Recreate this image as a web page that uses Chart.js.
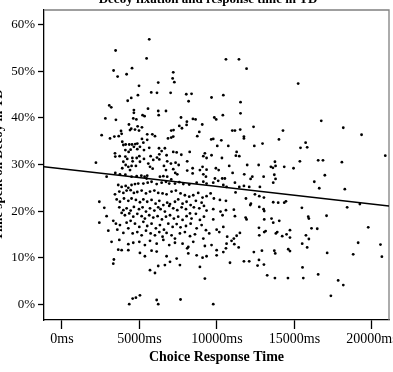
<!DOCTYPE html>
<html>
<head>
<meta charset="utf-8">
<script src="https://cdn.jsdelivr.net/npm/chart.js@4.4.1/dist/chart.umd.min.js"></script>
<style>
body { margin: 0; background: #fff; }
#wrap { width: 393px; height: 372px; }
</style>
</head>
<body>
<div id="wrap"><canvas id="decoyChart"></canvas></div>
<script>
const chartTitle = 'Decoy fixation and response time in TD';
const xTitle = 'Choice Response Time';
const yTitle = 'Time spent on Decoy in TD';
const xTicks = [0, 5000, 10000, 15000, 20000];
const yTicks = [0, 10, 20, 30, 40, 50, 60];
const xRange = [-1160, 21100];
const yRange = [-3.4, 63.2];

// fit line end points
const fitLine = [[-1160, 29.5], [21100, 21.1]];

// [response time ms, % time on decoy]
const trials = [
  [5630,56.9],[3460,54.5],[5460,52.8],[10580,52.6],[3330,50.2],[4520,50.7],[3590,48.9],[4170,49.4],[7180,49.8],[7140,48.5],
  [6210,47.6],[7250,47.7],[4970,46.9],[5760,45.5],[6130,45.4],[7010,45.4],[8020,45.1],[8360,45.2],[4900,44.9],[4470,44.3],
  [4240,43.7],[8170,43.6],[9650,44.4],[10410,44.9],[3050,42.7],[3180,42.3],[5550,42.0],[4640,41.7],[4640,41.1],[6210,41.5],
  [6710,41.5],[6240,40.6],[5200,40.6],[5330,40.4],[2800,39.9],[3480,39.6],[4800,39.7],[4600,39.9],[7680,40.1],[8450,39.8],
  [8620,39.7],[9830,40.1],[9950,39.7],[10380,40.6],[8060,39.2],[8040,38.5],[4320,38.6],[4470,37.7],[4880,38.2],[5160,38.0],
  [7570,38.3],[7740,37.8],[9050,38.6],[4390,37.4],[4710,37.5],[4970,37.3],[3810,37.2],[3850,36.6],[7200,37.4],[7050,37.3],
  [2560,36.3],[3100,35.6],[3380,36.0],[3660,36.1],[5500,36.5],[5830,36.5],[6000,36.1],[5500,35.3],[5160,35.5],[5250,34.7],
  [7050,35.8],[6840,35.6],[7180,36.0],[8860,37.0],[8730,36.1],[9630,35.4],[9760,35.5],[10280,35.2],[10020,34.0],[10730,34.0],
  [3890,34.9],[3960,34.2],[4110,34.3],[4340,34.3],[4520,34.3],[4730,34.4],[4860,34.5],[5030,33.8],[4640,33.8],[4430,33.2],
  [4090,33.1],[4300,32.7],[4860,33.3],[5290,33.1],[5630,33.6],[6260,33.5],[6430,32.9],[6640,33.5],[6280,32.2],[6750,32.0],
  [7180,32.7],[7400,32.6],[7700,32.1],[8240,32.7],[9220,32.4],[9120,31.8],[9330,31.4],[9650,32.0],[3420,32.4],[3440,31.7],
  [3720,31.8],[4090,31.7],[4210,31.2],[4540,31.4],[4560,30.7],[4820,31.4],[4990,31.8],[5290,31.2],[5720,31.8],[6130,31.5],
  [5890,31.0],[6280,31.1],[5030,30.6],[5570,30.2],[5680,29.5],[5850,29.1],[3960,30.6],[4110,29.9],[4280,29.5],[4490,29.7],
  [4770,29.7],[4390,28.8],[3890,29.2],[2190,30.4],[6790,30.7],[7030,30.2],[7330,30.4],[7530,29.9],[8080,30.7],[6580,29.7],
  [6710,28.8],[7180,29.0],[7310,28.2],[7440,27.9],[8080,28.7],[8430,29.2],[8430,28.1],[8900,28.8],[9070,29.5],[9330,28.9],
  [9930,29.2],[10110,28.8],[10320,31.4],[10790,29.7],[9120,27.9],[9290,27.4],[3440,28.2],[3740,27.9],[4090,27.8],[4490,27.4],
  [4820,27.5],[5120,27.6],[5330,27.4],[5500,27.6],[2880,27.4],[5460,27.0],[6320,27.4],[6540,27.5],[6790,27.4],[7050,26.8],
  [9870,27.0],[10340,27.0],[10510,27.0],
  [3630,25.6],[3850,25.2],[4110,25.4],[4280,25.0],[4490,25.6],[4710,25.8],[4920,25.9],[5250,25.9],[5530,26.1],[5780,26.3],
  [6110,25.8],[6430,26.1],[6710,26.3],[6920,25.9],[7290,25.9],[7570,26.2],[7830,25.8],[8210,25.7],[8690,26.1],[9120,26.3],
  [9330,25.9],[9760,26.1],[10080,26.5],[10410,25.6],[10620,25.2],
  [3420,23.6],[3700,24.2],[3960,23.9],[4170,24.4],[4430,24.5],[4640,23.9],[4860,24.1],[5140,24.4],[5420,23.8],[5680,24.2],
  [5960,24.4],[6210,23.9],[6490,23.8],[6750,23.6],[7070,24.2],[7350,24.4],[7650,23.8],[7930,23.4],[8210,23.1],[8470,23.4],
  [8790,23.9],[9070,22.9],[9330,23.2],[9590,23.8],[9800,22.7],[10190,22.4],[10580,22.2],
  [3530,22.5],[3740,22.0],[4000,22.7],[4280,22.2],[4490,22.7],[4770,22.4],[5030,21.9],[5250,22.5],[5500,22.0],[5780,22.4],
  [6040,21.6],[6280,22.2],[6540,21.3],[6790,21.8],[6970,21.5],[7290,22.0],[7500,22.5],[7780,21.6],[8040,22.0],[8300,21.3],
  [8640,22.2],[9010,21.8],[9160,21.1],[2410,22.0],[2730,20.7],
  [3700,20.8],[3960,20.2],[4170,20.6],[4430,20.1],[4640,20.9],[4970,20.4],[5200,20.8],[5420,19.9],[5680,20.6],[5960,20.1],
  [6210,20.8],[6360,20.4],[6640,19.9],[6920,21.1],[7180,20.6],[7440,20.2],[7720,20.8],[8000,20.4],[8260,19.5],[8510,20.8],
  [8860,20.6],[9330,20.1],[9760,20.4],[10230,19.9],[10580,20.2],
  [2880,18.9],[3850,19.6],[4060,19.1],[4340,19.5],[4600,18.8],[4860,19.4],[5140,18.9],[5350,18.4],[5630,19.1],[5890,18.6],
  [6170,18.9],[6450,18.2],[6710,18.8],[6970,19.1],[7220,18.4],[7500,18.8],[7780,18.1],[8040,18.9],[8360,18.4],[8640,19.4],
  [8900,18.1],[9160,18.8],[9760,18.2],[10360,19.1],
  [2410,17.5],[3310,17.9],[3480,17.3],[3740,17.0],[4170,17.5],[4430,17.9],[4710,17.3],[4990,16.6],[5250,17.7],[5500,16.8],
  [5780,17.3],[6060,16.3],[6320,17.0],[6580,16.0],[6860,17.3],[7140,16.6],[7400,17.2],[7650,16.5],[8000,16.8],[8300,17.3],
  [8690,16.3],[9010,17.0],[9290,15.9],[9980,16.0],[10410,16.6],
  [2990,15.8],[3570,16.0],[3960,15.3],[4280,16.3],[4560,15.2],[4860,15.5],[5140,14.8],[5420,15.8],[5720,15.2],[6000,14.8],
  [6280,15.5],[6490,14.5],[6750,15.3],[7070,14.8],[7290,14.1],[7610,15.2],[7930,15.5],[8260,14.6],[8580,15.0],[9120,14.1],
  [9500,15.2],[10150,15.5],[10660,14.5],
  [3200,13.4],[3700,13.8],[4280,12.9],[4600,13.2],[4990,13.4],[5350,12.7],[5680,13.6],[6110,13.0],[6540,13.8],[6920,12.7],
  [7290,13.2],[7780,13.0],[8150,12.3],[8470,13.4],[9220,12.5],[9650,12.7],[9980,11.6],[10620,13.0],[10580,12.0],
  [3630,11.7],[3850,11.6],[4280,11.6],[5030,11.0],[5350,10.3],[5780,11.5],[6110,11.3],[6750,10.3],[7400,9.8],[8080,12.0],
  [8150,10.9],[8690,10.5],[9070,10.0],[9330,10.3],[9980,10.5],[10410,11.2],
  [3350,9.6],[3310,8.7],[5680,7.3],[6000,6.7],[6210,8.2],[6640,8.4],[6970,9.1],[7610,8.4],[8900,8.0],[9220,5.5],
  [4560,1.2],[4770,1.4],[5030,1.9],[6110,0.9],[7650,1.0],[4340,0.0],[6210,0.0],[9760,0.0],
  [11420,52.6],[11910,50.6],[15240,47.4],[11520,43.4],[11520,41.0],[16730,39.4],[18150,37.9],[19330,36.4],[10990,37.3],[11160,37.3],
  [11500,37.5],[12360,38.1],[14260,37.3],[11740,36.0],[11740,35.6],[14000,35.4],[12410,34.0],[12940,34.5],[15720,34.7],[15390,33.6],
  [15820,33.7],[11270,32.7],[11220,31.9],[11440,31.8],[11010,28.2],[11950,29.9],[12690,29.9],[13740,30.6],[13480,29.5],[13610,29.3],
  [13780,29.7],[14340,29.5],[14940,29.2],[15350,30.7],[16530,30.9],[16840,30.9],[18060,30.5],[20860,31.9],[11760,27.9],[12280,27.4],
  [12170,26.9],[13010,27.4],[13700,27.8],[13780,26.9],[16960,27.7],
  [11160,26.1],[11440,25.2],[11740,25.4],[12080,25.2],[12770,25.2],[13630,26.1],[16280,26.3],[16600,24.9],[18250,24.7],[11200,24.0],
  [11870,22.7],[12450,23.6],[12730,23.2],[13030,22.9],[12150,21.3],[12190,21.6],[12730,20.9],[13010,20.4],[13050,20.0],[13630,21.9],
  [13950,21.8],[14340,21.8],[14450,22.1],[15480,20.7],[18400,20.8],[19220,21.5],[17070,19.0],[15890,18.8],[15930,18.4],[13050,18.2],
  [13520,18.4],[13630,17.5],[14020,17.9],[11090,20.3],[11160,18.9],[11850,18.6],[11910,18.2],[12710,16.4],[13050,15.5],[13140,15.7],
  [12730,14.8],[13890,15.5],[13800,15.2],[14710,15.9],[14490,15.0],[14210,14.6],[14710,14.3],[16100,16.3],[16470,16.2],[15740,14.8],
  [15930,14.0],[15500,13.0],[15820,12.2],[19760,16.5],[19110,13.2],[20550,12.8],[20640,10.2],[18790,10.7],[17110,11.0],[11480,15.3],
  [11270,14.7],[11090,14.1],[10940,13.6],[11400,12.2],[11120,12.9],[12380,11.2],[12900,11.5],[13700,11.5],[13760,10.9],[14600,11.8],
  [14710,11.4],[11740,9.2],[12080,9.2],[12710,9.5],[12620,8.3],[13030,8.5],[10840,8.9],[15520,7.9],[13240,6.2],[13740,5.6],
  [14580,5.6],[15570,5.6],[16530,6.4],[17820,5.1],[18150,4.1],[17350,1.8]
];

const serif = 'Liberation Serif';

// top/right frame in grey, titles that sit partly off the canvas
const framePlugin = {
  id: 'frame',
  beforeDatasetsDraw(chart) {
    const { ctx, chartArea: a } = chart;
    ctx.save();
    ctx.strokeStyle = '#808080';
    ctx.lineWidth = 1.3;
    ctx.beginPath();
    ctx.moveTo(a.left, a.top);
    ctx.lineTo(a.right, a.top);
    ctx.lineTo(a.right, a.bottom);
    ctx.stroke();
    ctx.restore();
  },
  afterDraw(chart) {
    const { ctx, chartArea: a } = chart;
    ctx.save();
    ctx.fillStyle = '#000';
    ctx.font = 'bold 13px "' + serif + '"';
    ctx.textAlign = 'center';
    ctx.textBaseline = 'alphabetic';
    ctx.fillText(chartTitle, 208, 3);
    ctx.translate(1.5, (a.top + a.bottom) / 2);
    ctx.rotate(-Math.PI / 2);
    ctx.fillText(yTitle, 0, 0);
    ctx.restore();
  }
};

const ctx = document.getElementById('decoyChart').getContext('2d');
new Chart(ctx, {
  type: 'scatter',
  data: {
    datasets: [
      {
        data: trials.map(t => ({ x: t[0], y: t[1] })),
        pointRadius: 1.4,
        pointBackgroundColor: '#000',
        pointBorderWidth: 0
      },
      {
        data: fitLine.map(p => ({ x: p[0], y: p[1] })),
        showLine: true,
        borderColor: '#000',
        borderWidth: 1.5,
        pointRadius: 0
      }
    ]
  },
  options: {
    responsive: true,
    maintainAspectRatio: false,
    animation: false,
    events: [],
    layout: { padding: { top: 10, right: 4, left: 0, bottom: 0 } },
    plugins: { legend: { display: false }, tooltip: { enabled: false } },
    scales: {
      x: {
        type: 'linear',
        min: xRange[0],
        max: xRange[1],
        afterBuildTicks: s => { s.ticks = xTicks.map(v => ({ value: v })); },
        afterFit: s => { s.height = 52; s.paddingLeft = 0; s.paddingRight = 0; },
        grid: { drawOnChartArea: false, color: '#000', tickLength: 9, tickWidth: 1.3 },
        border: { color: '#000', width: 1.3 },
        ticks: {
          color: '#000', autoSkip: false, maxRotation: 0, padding: 2,
          font: { family: serif, size: 14 },
          callback: v => v + 'ms'
        },
        title: {
          display: true, text: xTitle, color: '#000',
          font: { family: serif, size: 14, weight: 'bold' },
          padding: { top: 0, bottom: 6 }
        }
      },
      y: {
        type: 'linear',
        min: yRange[0],
        max: yRange[1],
        afterBuildTicks: s => { s.ticks = yTicks.map(v => ({ value: v })); },
        afterFit: s => { s.width = 44; s.paddingTop = 0; s.paddingBottom = 0; },
        grid: { drawOnChartArea: false, color: '#000', tickLength: 6, tickWidth: 1.3 },
        border: { color: '#000', width: 1.3 },
        ticks: {
          color: '#000', autoSkip: false, padding: 3,
          font: { family: serif, size: 13 },
          callback: v => v + '%'
        }
      }
    }
  },
  plugins: [framePlugin]
});
</script>
</body>
</html>
